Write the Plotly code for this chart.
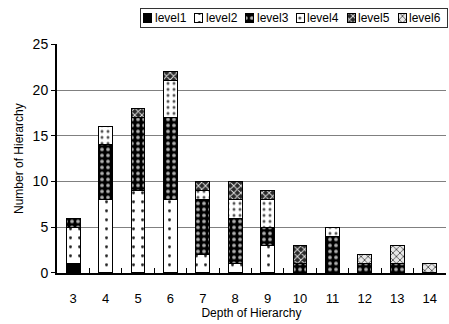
import plotly.graph_objects as go

depth = ["3", "4", "5", "6", "7", "8", "9", "10", "11", "12", "13", "14"]
level1 = [1, 0, 0, 0, 0, 0, 0, 0, 0, 0, 0, 0]
level2 = [4, 8, 9, 8, 2, 1, 3, 0, 0, 0, 0, 0]
level3 = [1, 6, 8, 9, 6, 5, 2, 1, 4, 1, 1, 0]
level4 = [0, 2, 0, 4, 1, 2, 3, 0, 1, 0, 0, 0]
level5 = [0, 0, 1, 1, 1, 2, 1, 2, 0, 0, 0, 0]
level6 = [0, 0, 0, 0, 0, 0, 0, 0, 0, 1, 2, 1]
series_names = ["level1", "level2", "level3", "level4", "level5", "level6"]
series_vals = [level1, level2, level3, level4, level5, level6]
y_ticks = [0, 5, 10, 15, 20, 25]

FONT = "Liberation Sans, Arial, sans-serif"

styles = {
    "level1": dict(color="black"),
    "level2": dict(color="white", pattern=dict(shape=".", fgcolor="#222", bgcolor="white",
                                               size=9, solidity=0.08, fillmode="replace")),
    "level3": dict(color="black", pattern=dict(shape=".", fgcolor="#b0b0b0", bgcolor="black",
                                               size=6, solidity=0.3, fillmode="replace")),
    "level4": dict(color="white", pattern=dict(shape=".", fgcolor="#555", bgcolor="white",
                                               size=6, solidity=0.2, fillmode="replace")),
    "level5": dict(color="#333", pattern=dict(shape="x", fgcolor="#e0e0e0", bgcolor="#2a2a2a",
                                              size=5, solidity=0.35, fillmode="replace")),
    "level6": dict(color="#ccc", pattern=dict(shape="x", fgcolor="#444", bgcolor="#e8e8e8",
                                              size=5, solidity=0.3, fillmode="replace")),
}

fig = go.Figure()
for name, vals in zip(series_names, series_vals):
    m = dict(styles[name])
    m["line"] = dict(color="black", width=1)
    fig.add_trace(go.Bar(x=depth, y=vals, name=name, marker=m, showlegend=False,
                         xaxis="x", yaxis="y"))

# custom legend drawn in an inset axis
icon_x = [7, 58, 109, 160, 211, 262]
for name, cx in zip(series_names, icon_x):
    m = dict(styles[name])
    m["line"] = dict(color="black", width=1)
    fig.add_trace(go.Bar(x=[cx], y=[0.5], base=[0.25], width=[8], marker=m,
                         showlegend=False, xaxis="x2", yaxis="y2", hoverinfo="skip"))
    fig.add_annotation(x=cx + 5, y=0.5, xref="x2", yref="y2", text=name, showarrow=False,
                       xanchor="left", yanchor="middle",
                       font=dict(family=FONT, size=12, color="black"))

fig.update_layout(
    width=449, height=324,
    margin=dict(l=57, r=1, t=4, b=51),
    barmode="stack", bargap=0.57,
    plot_bgcolor="white", paper_bgcolor="white",
    font=dict(family=FONT, size=13, color="black"),
    xaxis=dict(domain=[0, 0.997], type="category", ticks="inside", tickson="boundaries",
               ticklen=5, tickcolor="black", showline=True, linecolor="black", linewidth=2,
               showgrid=False, ticklabelstandoff=12,
               tickfont=dict(family=FONT, size=13),
               title=dict(text="Depth of Hierarchy", font=dict(family=FONT, size=12), standoff=4),
               anchor="y"),
    yaxis=dict(domain=[0, 0.866], range=[0, 25], tickvals=y_ticks, ticks="outside", ticklen=4,
               tickcolor="black", showline=True, linecolor="black", linewidth=2,
               showgrid=True, gridcolor="#808080", gridwidth=1, zeroline=False,
               tickfont=dict(family=FONT, size=14),
               title=dict(text="Number of Hierarchy", font=dict(family=FONT, size=12), standoff=6),
               anchor="x"),
    xaxis2=dict(domain=[0.215, 1.0], range=[0, 307], showticklabels=False, showgrid=False,
                zeroline=False, showline=True, linecolor="#333", linewidth=1, mirror=True,
                ticks="", anchor="y2", fixedrange=True),
    yaxis2=dict(domain=[0.933, 1.0], range=[0, 1], showticklabels=False, showgrid=False,
                zeroline=False, showline=True, linecolor="#333", linewidth=1, mirror=True,
                ticks="", anchor="x2", fixedrange=True),
)

fig.write_html("out.html", config={"displayModeBar": False},
               post_script="document.body.style.margin='0';")
